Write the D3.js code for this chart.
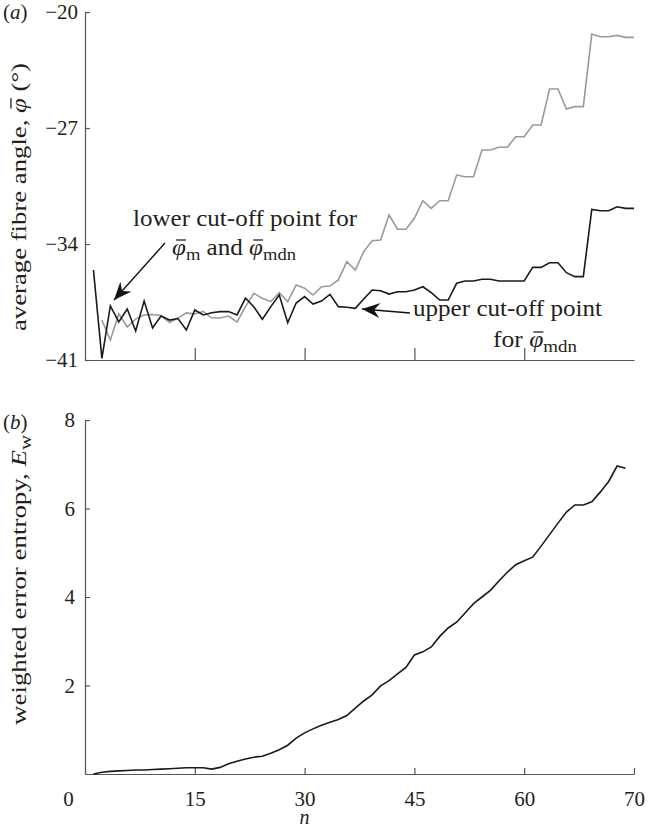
<!DOCTYPE html>
<meta charset="utf-8">
<style>
body { margin: 0; background: #fff; }
text { font-family: "Liberation Serif", "Times New Roman", serif; fill: #231f20; }
.axis path, .axis line { stroke: #555; stroke-width: 1.2px; }
.axis text { font-size: 21px; fill: #231f20; }
.lbl { font-size: 23px; }
.tag { font-size: 21px; }
</style>
<body>
<script src="https://d3js.org/d3.v7.min.js"></script>
<script>
var width = 650,
    height = 827;

// points are plotted at equal steps along n
var steps = d3.range(1, 66);
var tickSteps = [0, 13, 26, 39, 52, 65];
var tickLabels = ["0", "15", "30", "45", "60", "70"];

// (a) median fibre angle (black)
var phiMdn = [-35.57, -40.9, -37.74, -38.7, -37.92, -39.25, -37.44, -39.07, -38.35, -38.59,
  -38.5, -39.19, -37.98, -38.28, -38.15, -38.08, -38.08, -38.28, -37.26, -37.8,
  -38.54, -37.78, -37.08, -38.75, -37.56, -37.17, -37.62, -37.44, -37.04, -37.78,
  -37.82, -37.88, -37.32, -36.78, -36.82, -37.02, -36.88, -36.88, -36.78, -36.58,
  -36.94, -37.38, -37.38, -36.37, -36.23, -36.23, -36.13, -36.13, -36.23, -36.23,
  -36.23, -36.23, -35.41, -35.41, -35.13, -35.13, -35.73, -35.97, -35.97, -31.91,
  -31.99, -31.99, -31.75, -31.85, -31.85];

// (a) mean fibre angle (grey)
var phiM = [null, -38.59, -39.79, -38.22, -39.01, -38.53, -38.28, -38.25, -38.31, -38.74,
  -38.47, -38.16, -38.22, -38.07, -38.47, -38.47, -38.35, -38.71, -37.78, -36.98,
  -37.28, -37.48, -36.94, -37.48, -36.47, -36.67, -37.08, -36.58, -36.53, -36.17,
  -35.07, -35.57, -34.46, -33.8, -33.76, -32.25, -33.11, -33.11, -32.45, -31.39,
  -31.85, -31.39, -31.39, -29.84, -29.94, -29.94, -28.33, -28.33, -28.16, -28.16,
  -27.53, -27.53, -26.82, -26.82, -24.65, -24.65, -25.85, -25.71, -25.71, -21.33,
  -21.49, -21.49, -21.41, -21.53, -21.53];
var topTicks = [-20, -27, -34, -41];

// (b) weighted error entropy
var entropy = [0.0, 0.04, 0.06, 0.07, 0.08, 0.09, 0.09, 0.10, 0.11, 0.12,
  0.13, 0.14, 0.14, 0.14, 0.11, 0.15, 0.23, 0.29, 0.34, 0.38,
  0.40, 0.47, 0.55, 0.65, 0.81, 0.93, 1.02, 1.10, 1.17, 1.23,
  1.32, 1.49, 1.65, 1.79, 1.99, 2.11, 2.26, 2.41, 2.69, 2.76,
  2.87, 3.11, 3.30, 3.43, 3.64, 3.85, 4.00, 4.15, 4.36, 4.56,
  4.73, 4.82, 4.90, 5.15, 5.41, 5.67, 5.92, 6.08, 6.08, 6.15,
  6.37, 6.61, 6.96, 6.91];
var botTicks = [2, 4, 6, 8];

var svg = d3.select("body").append("svg")
    .attr("width", width)
    .attr("height", height);

var defs = svg.append("defs");
defs.append("marker")
    .attr("id", "head")
    .attr("markerUnits", "userSpaceOnUse")
    .attr("viewBox", "-18 -8 20 16")
    .attr("markerWidth", 20)
    .attr("markerHeight", 16)
    .attr("refX", 0)
    .attr("refY", 0)
    .attr("orient", "auto")
  .append("path")
    .attr("d", "M0,0 L-18,-7.5 L-12,0 L-18,7.5 Z")
    .attr("fill", "#111");

var x = d3.scaleLinear().domain([0, 65]).range([85, 634]);
var yTop = d3.scaleLinear().domain([-41, -20]).range([360, 12]);
var yBot = d3.scaleLinear().domain([0, 8]).range([774, 420]);

// text helper: fixed width so it spans like the printed figure
function label(px, py, w, html, tr) {
  var t = svg.append("text").attr("class", "lbl")
      .attr("textLength", w)
      .attr("lengthAdjust", "spacingAndGlyphs")
      .html(html);
  if (tr) t.attr("transform", tr).attr("text-anchor", "middle");
  else t.attr("x", px).attr("y", py);
  return t;
}

// draws a bar over every phi in a text element
function overbar(t) {
  var node = t.node(), s = node.textContent;
  for (var i = 0; i < s.length; i++) {
    if (s[i] !== "\u03C6") continue;
    var b = node.getExtentOfChar(i);
    d3.select(node.parentNode).append("line")
        .attr("transform", t.attr("transform"))
        .attr("x1", b.x + b.width * 0.3).attr("x2", b.x + b.width * 1.0)
        .attr("y1", b.y + b.height * 0.2).attr("y2", b.y + b.height * 0.2)
        .attr("stroke", "#231f20").attr("stroke-width", 1.3);
  }
}

var sub = function(s) { return '<tspan font-size="17" dy="5">' + s + '</tspan>'; };
var phi = '<tspan font-style="italic">\u03C6</tspan>';

// ---- panel (a) ----
svg.append("g")
    .attr("class", "axis")
    .attr("transform", "translate(85,0)")
    .call(d3.axisLeft(yTop).tickValues(topTicks).tickSize(-5).tickSizeOuter(0).tickPadding(7));

svg.append("g")
    .attr("class", "axis")
    .attr("transform", "translate(0,360)")
    .call(d3.axisBottom(x).tickValues(tickSteps.slice(1, 5)).tickSize(-12).tickSizeOuter(0).tickFormat(""));

var line = function(vals, yScale) {
  return d3.line()
      .defined(function(d, i) { return vals[i] != null; })
      .x(function(d) { return x(d); })
      .y(function(d, i) { return yScale(vals[i]); })(steps.slice(0, vals.length));
};

svg.append("path")
    .attr("d", line(phiM, yTop))
    .attr("fill", "none")
    .attr("stroke", "#9a9a9a")
    .attr("stroke-width", 1.6);

svg.append("path")
    .attr("d", line(phiMdn, yTop))
    .attr("fill", "none")
    .attr("stroke", "#1a1a1a")
    .attr("stroke-width", 1.6);

svg.append("text").attr("class", "tag").attr("x", 3).attr("y", 19)
    .html('(<tspan font-style="italic">a</tspan>)');

overbar(label(0, 0, 268, 'average fibre angle, ' + phi + ' (°)', "translate(26,197) rotate(-90)")
    .style("font-size", "22px"));

// annotations
label(133, 226, 224, "lower cut-off point for");
overbar(label(172, 255, 124, phi + sub("m") + '<tspan dy="-5"> and </tspan>' + phi + sub("mdn")));
svg.append("line")
    .attr("x1", 165).attr("y1", 243).attr("x2", 114).attr("y2", 300)
    .attr("stroke", "#111").attr("stroke-width", 1.4)
    .attr("marker-end", "url(#head)");

label(413, 316, 189, "upper cut-off point");
overbar(label(493, 347, 84, 'for ' + phi + sub("mdn")));
svg.append("line")
    .attr("x1", 410).attr("y1", 313).attr("x2", 362).attr("y2", 309)
    .attr("stroke", "#111").attr("stroke-width", 1.4)
    .attr("marker-end", "url(#head)");

// ---- panel (b) ----
svg.append("g")
    .attr("class", "axis")
    .attr("transform", "translate(85,0)")
    .call(d3.axisLeft(yBot).tickValues(botTicks).tickSize(-5).tickSizeOuter(0).tickPadding(10));

var xAxis = svg.append("g")
    .attr("class", "axis")
    .attr("transform", "translate(0,774)")
    .call(d3.axisBottom(x).tickValues(tickSteps).tickSize(-6).tickSizeOuter(0).tickPadding(17)
      .tickFormat(function(d, i) { return tickLabels[i]; }));
xAxis.selectAll(".tick").filter(function(d) { return d === 0; }).select("text").attr("dx", -17);

svg.append("path")
    .attr("d", line(entropy, yBot))
    .attr("fill", "none")
    .attr("stroke", "#1a1a1a")
    .attr("stroke-width", 1.6);

svg.append("text").attr("class", "tag").attr("x", 3).attr("y", 429)
    .html('(<tspan font-style="italic">b</tspan>)');

label(0, 0, 290, 'weighted error entropy, <tspan font-style="italic">E</tspan>' + sub("w"),
      "translate(26,580) rotate(-90)").style("font-size", "22px");

svg.append("text").attr("class", "tag")
    .attr("x", x(26)).attr("y", 824)
    .attr("text-anchor", "middle")
    .attr("font-style", "italic")
    .style("font-size", "20px")
    .text("n");
</script>
</body>
</html>
